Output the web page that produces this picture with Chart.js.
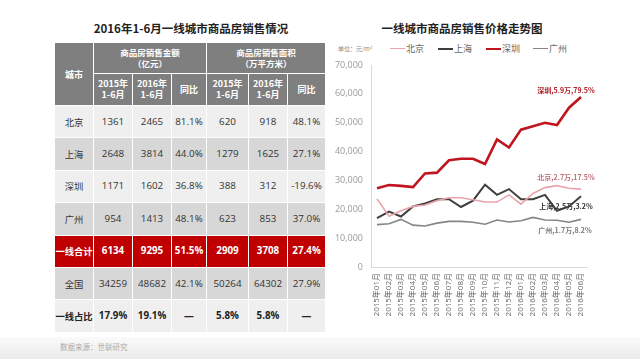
<!DOCTYPE html>
<html><head><meta charset="utf-8">
<script src="https://cdn.jsdelivr.net/npm/chart.js@4/dist/chart.umd.min.js"></script>
<style>
html,body{margin:0;padding:0;background:#fff;width:640px;height:359px;overflow:hidden;font-family:"Open Sans","Noto Sans CJK SC",sans-serif;}
.title{position:absolute;font-family:"Noto Sans CJK SC",sans-serif;font-weight:bold;font-size:11.5px;color:#222;white-space:nowrap;text-align:center;}
#tbl{position:absolute;left:54px;top:42px;border-collapse:collapse;table-layout:fixed;}
#tbl td{border:1.5px solid #fff;padding:0;text-align:center;vertical-align:middle;white-space:nowrap;overflow:visible;}
#tbl .hd{background:#7f7f7f;color:#fff;font-weight:bold;font-family:"Noto Sans CJK SC",sans-serif;font-size:8.5px;line-height:11px;}
#tbl .r td{font-size:9.8px;color:#333;height:31.4px;line-height:12px;}
#tbl .lt td{background:#efefef;}
#tbl .dk td{background:#d7d7d7;}
#tbl .red td{background:#c00000;color:#fff;font-weight:bold;}
#tbl .bold td{font-weight:bold;color:#222;}
#tbl td.city{font-family:"Noto Sans CJK SC",sans-serif;font-size:9.3px;}
#legend{position:absolute;left:338px;top:43px;height:12px;font-family:"Noto Sans CJK SC",sans-serif;font-size:9px;color:#666;white-space:nowrap;}
#legend span.it{position:absolute;top:0;line-height:12px;}
#legend i{display:inline-block;width:15px;vertical-align:middle;margin-right:1px;position:relative;top:-1px;}
#unit{position:absolute;left:0;top:1px;font-size:6px;color:#888;line-height:10px;}
#wrap{position:absolute;left:330px;top:40px;width:280px;height:300px;}
#src{position:absolute;left:60px;top:341px;font-family:"Noto Sans CJK SC",sans-serif;font-size:7.5px;color:#aaa;}
#band{position:absolute;left:0;top:337px;width:640px;height:22px;background:linear-gradient(#fafafa,#ebebeb);}
</style></head>
<body>
<div id="band"></div>
<div class="title" style="left:60px;top:20px;width:262px;">2016年1-6月一线城市商品房销售情况</div>
<div class="title" style="left:362px;top:20px;width:200px;">一线城市商品房销售价格走势图</div>
<table id="tbl"></table>
<div id="src">数据来源：世联研究</div>
<div id="legend"><span id="unit">单位：元/m²</span></div>
<div id="wrap"><canvas id="c" width="280" height="300"></canvas></div>
<script>
// ---- table data ----
const cities = ['北京','上海','深圳','广州','一线合计','全国','一线占比'];
const amount2015 = ['1361','2648','1171','954','6134','34259','17.9%'];
const amount2016 = ['2465','3814','1602','1413','9295','48682','19.1%'];
const amountYoY = ['81.1%','44.0%','36.8%','48.1%','51.5%','42.1%','—'];
const area2015 = ['620','1279','388','623','2909','50264','5.8%'];
const area2016 = ['918','1625','312','853','3708','64302','5.8%'];
const areaYoY = ['48.1%','27.1%','-19.6%','37.0%','27.4%','27.9%','—'];

// ---- chart data ----
const months = ['2015年01月','2015年02月','2015年03月','2015年04月','2015年05月','2015年06月','2015年07月','2015年08月','2015年09月','2015年10月','2015年11月','2015年12月','2016年01月','2016年02月','2016年03月','2016年04月','2016年05月','2016年06月'];
const beijing = [23600,17600,19500,21000,21500,23000,24000,24000,23300,22500,22500,25000,21800,25500,27500,28200,27300,27000];
const shanghai = [16900,19200,17500,21000,22000,23500,23500,20800,23000,28500,25000,27000,23500,23500,25000,19500,21000,24500];
const shenzhen = [27300,28400,28100,27700,32400,32700,37000,37500,37500,35700,44200,41400,47600,48800,50000,49200,55200,58900];
const guangzhou = [14700,15000,16500,14500,14200,15200,15800,15800,15500,14800,16300,15600,16000,17200,16300,16200,15500,16500];
const seriesNames = ['北京','上海','深圳','广州'];
const endLabels = ['北京,2.7万,17.5%','上海,2.5万,3.2%','深圳,5.9万,79.5%','广州,1.7万,8.2%'];

// build table
const colW = [39,39,39,35,42,39,38];
const tbl = document.getElementById('tbl');
let h = '<colgroup>' + colW.map(w=>'<col style="width:'+w+'px">').join('') + '</colgroup>';
h += '<tr><td class="hd" rowspan="2" style="font-size:9px">城市</td><td class="hd" colspan="3" style="height:29.5px">商品房销售金额<br>（亿元）</td><td class="hd" colspan="3">商品房销售面积<br>（万平方米）</td></tr>';
h += '<tr><td class="hd" style="height:31.5px;font-size:9px">2015年<br>1-6月</td><td class="hd" style="font-size:9px">2016年<br>1-6月</td><td class="hd" style="font-size:9px">同比</td><td class="hd" style="font-size:9px">2015年<br>1-6月</td><td class="hd" style="font-size:9px">2016年<br>1-6月</td><td class="hd" style="font-size:9px">同比</td></tr>';
const rowCls = ['lt','dk','lt','dk','red','dk','lt bold'];
cities.forEach((c,i)=>{
  h += '<tr class="r '+rowCls[i]+'"><td class="city">'+c+'</td><td>'+amount2015[i]+'</td><td>'+amount2016[i]+'</td><td>'+amountYoY[i]+'</td><td>'+area2015[i]+'</td><td>'+area2016[i]+'</td><td>'+areaYoY[i]+'</td></tr>';
});
tbl.innerHTML = h;

// styles
const colors = ['#e9a3aa','#3f3f3f','#c0141e','#858585'];
const widths = [1.6,2,2.6,1.6];
const labelColors = ['#c0707a','#333333','#b0202a','#7a7a7a'];
const labelOffsets = [[-15,-12],[-15,10],[-15,-7],[-16,11]];

// legend
const lg = document.getElementById('legend');
const lgX = [52,100,148,195];
seriesNames.forEach((n,i)=>{
  const s = document.createElement('span');
  s.className='it'; s.style.left = lgX[i]+'px';
  s.innerHTML = '<i style="border-top:'+widths[i]+'px solid '+colors[i]+'"></i>'+n;
  lg.appendChild(s);
});

const endLabelPlugin = {
  id:'endLabels',
  afterDatasetsDraw(chart){
    const ctx = chart.ctx;
    ctx.save();
    ctx.font = 'bold 7px "Noto Sans CJK SC"';
    ctx.textAlign='center'; ctx.textBaseline='middle';
    chart.data.datasets.forEach((ds,i)=>{
      const meta = chart.getDatasetMeta(i);
      const p = meta.data[meta.data.length-1];
      ctx.fillStyle = labelColors[i];
      ctx.fillText(endLabels[i], p.x + labelOffsets[i][0], p.y + labelOffsets[i][1]);
    });
    ctx.restore();
  }
};

const allSeries = [beijing, shanghai, shenzhen, guangzhou];
new Chart(document.getElementById('c'), {
  type:'line',
  data:{
    labels: months,
    datasets: allSeries.map((d,i)=>({
      label: seriesNames[i], data: d, borderColor: colors[i], backgroundColor: colors[i],
      borderWidth: widths[i], pointRadius:0, tension:0, fill:false
    }))
  },
  options:{
    responsive:false, animation:false,
    layout:{padding:{left:0,right:23,top:25,bottom:0}},
    plugins:{legend:{display:false}, tooltip:{enabled:false}},
    scales:{
      x:{
        offset:true,
        grid:{display:false, drawTicks:false},
        border:{display:true,color:'#d9d9d9',width:1},
        ticks:{minRotation:90,maxRotation:90,autoSkip:false,padding:6,color:'#666',font:{size:8,family:'"Open Sans","Noto Sans CJK SC"'}},
        afterFit(s){ s.height = 73; }
      },
      y:{
        min:0,max:70000,
        grid:{display:false, drawTicks:false},
        border:{display:true,color:'#d9d9d9',width:1},
        ticks:{stepSize:10000,padding:8,color:'#999',font:{size:9,family:'"Open Sans"'}},
        afterFit(s){ s.width = 41; }
      }
    }
  },
  plugins:[endLabelPlugin]
});
</script>
</body></html>
